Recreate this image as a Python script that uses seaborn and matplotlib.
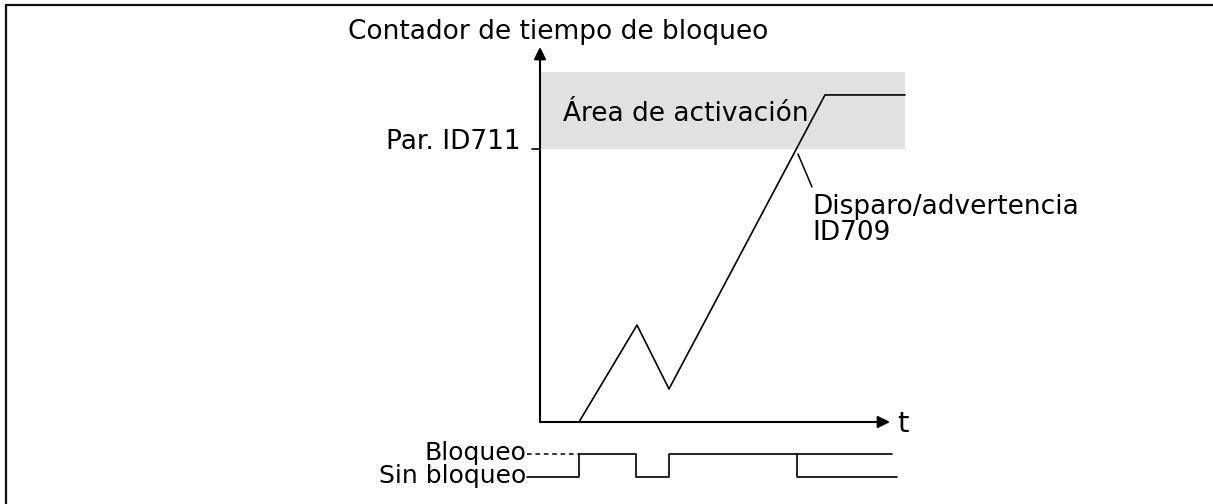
import matplotlib
matplotlib.use("Agg")
import matplotlib.pyplot as plt
import seaborn as sns
import pandas as pd

# ---------------- data ----------------
curve_t = [3.9, 9.7, 12.9, 28.5, 36.5]          # time
curve_c = [0.0, 35.5, 12.1, 119.8, 119.8]       # stall time counter
threshold = 100.0                               # Par. ID711
zone_top = 128.2                                # top of activation area
zone_end = 36.5
signal_t = [-1.3, 3.9, 9.6, 12.9, 25.7, 35.7]   # stall / no-stall signal
signal_state = [0, 1, 0, 1, 0, 0]
dashed_t = [-1.3, 3.9]
tail_t = [25.7, 35.2]

title_text = "Contador de tiempo de bloqueo"
thr_label = "Par. ID711"
zone_label = "Área de activación"
trip_label = "Disparo/advertencia\nID709"
t_label = "t"
hi_label = "Bloqueo"
lo_label = "Sin bloqueo"

# ---------------- layout ----------------
W, H = 1213, 504
X0, XS = 540, 10.0      # px of t=0, px per time unit
Y0, YS = 422, 2.73      # px of c=0, px per counter unit
SIG_HI = (Y0 - 454) / YS
SIG_LO = (Y0 - 477) / YS
T_END = (890 - X0) / XS
C_END = (Y0 - 47) / YS

def tx(px):
    return (px - X0) / XS

def cy(py):
    return (Y0 - py) / YS

sns.set_theme(style="white")
plt.rcParams["font.family"] = ["DejaVu Sans"]
plt.rcParams["text.color"] = "black"

fig = plt.figure(figsize=(W / 100, H / 100), dpi=100)
ax = fig.add_axes([0, 0, 1, 1])
ax.set_xlim(tx(0), tx(W))
ax.set_ylim(cy(H), cy(0))
ax.axis("off")

# activation area
ax.fill_between([0, zone_end], threshold, zone_top, color="#e1e1e1", lw=0, zorder=0)

# axes with arrows
ax.annotate("", xy=(0, C_END), xytext=(0, 0),
            arrowprops=dict(arrowstyle="-|>", color="black", lw=1.5,
                            mutation_scale=18, shrinkA=0, shrinkB=0))
ax.annotate("", xy=(T_END, 0), xytext=(0, 0),
            arrowprops=dict(arrowstyle="-|>", color="black", lw=1.5,
                            mutation_scale=18, shrinkA=0, shrinkB=0))
ax.plot([tx(532), 0], [threshold, threshold], color="black", lw=1.2)

# counter curve
df = pd.DataFrame({"t": curve_t, "c": curve_c})
sns.lineplot(data=df, x="t", y="c", sort=False, color="black", lw=1.2, ax=ax)

# signal
sig = pd.DataFrame({"t": signal_t,
                    "v": [SIG_LO + s * (SIG_HI - SIG_LO) for s in signal_state]})
sns.lineplot(data=sig, x="t", y="v", sort=False, drawstyle="steps-post",
             color="black", lw=1.2, ax=ax)
ax.plot(dashed_t, [SIG_HI, SIG_HI], color="black", lw=1.1, ls=(0, (3, 2.5)))
ax.plot(tail_t, [SIG_HI, SIG_HI], color="black", lw=1.2)

# leader line for trip
ax.plot([tx(798), tx(812)], [cy(154), cy(187)], color="black", lw=1.1)

fs = 19
ax.text(tx(348), cy(32), title_text, fontsize=fs, va="center", ha="left")
ax.text(tx(521), cy(142), thr_label, fontsize=fs, va="center", ha="right")
ax.text(tx(563), cy(114), zone_label, fontsize=fs, va="center", ha="left")
ax.text(tx(812), cy(220), trip_label, fontsize=fs, va="center", ha="left",
        linespacing=1.0)
ax.text(tx(897), cy(424), t_label, fontsize=fs + 2, va="center", ha="left")
ax.text(tx(526), cy(453), hi_label, fontsize=18, va="center", ha="right")
ax.text(tx(526), cy(476), lo_label, fontsize=18, va="center", ha="right")

# frame (top and left edges)
fig.add_artist(plt.Line2D([6 / W, 1], [1 - 5 / H, 1 - 5 / H], color="#111111", lw=1.6))
fig.add_artist(plt.Line2D([6 / W, 6 / W], [0, 1 - 5 / H], color="#111111", lw=1.6))

fig.savefig("out.png", dpi=100, facecolor="white")
